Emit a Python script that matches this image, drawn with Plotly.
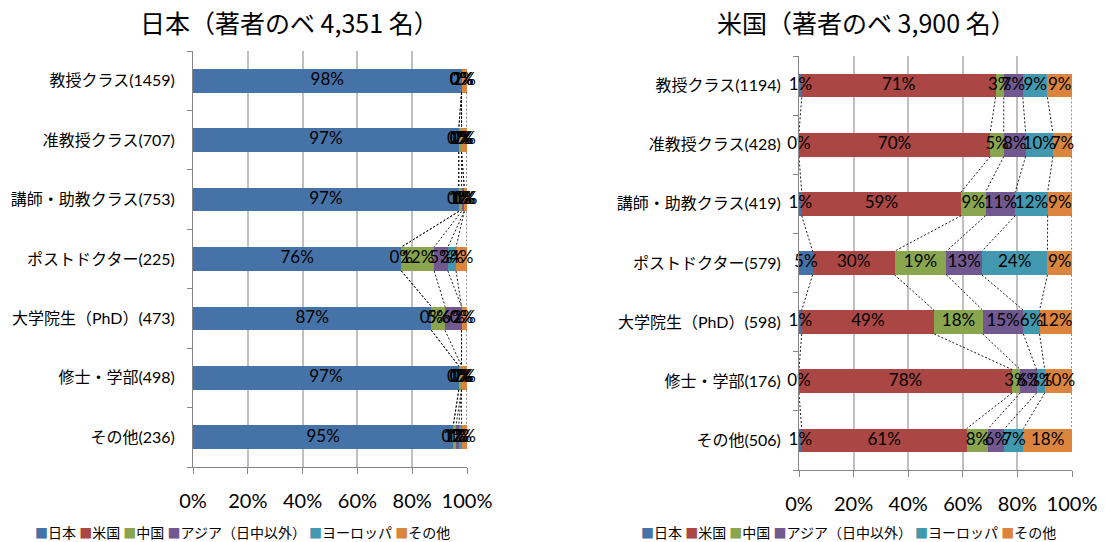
import numpy as np
import plotly.graph_objects as go

# ---- data -------------------------------------------------------------
categories_jp = ["教授クラス(1459)", "准教授クラス(707)", "講師・助教クラス(753)",
                 "ポストドクター(225)", "大学院生（PhD）(473)", "修士・学部(498)", "その他(236)"]
categories_us = ["教授クラス(1194)", "准教授クラス(428)", "講師・助教クラス(419)",
                 "ポストドクター(579)", "大学院生（PhD）(598)", "修士・学部(176)", "その他(506)"]

series_names = ["日本", "米国", "中国", "アジア（日中以外）", "ヨーロッパ", "その他"]
series_colors = ["#4572A7", "#AA4643", "#89A54E", "#71588F", "#4198AF", "#DB843D"]

# 日本の著者（％）
jp_japan = [98, 97, 97, 76, 87, 97, 95]
jp_usa = [0, 0, 0, 0, 0, 0, 0]
jp_china = [0, 1, 1, 12, 5, 1, 1]
jp_asia = [0, 0, 1, 5, 6, 0, 1]
jp_europe = [0, 0, 0, 3, 0, 0, 1]
jp_other = [2, 2, 1, 4, 2, 2, 2]

# 米国の著者（％）
us_japan = [1, 0, 1, 5, 1, 0, 1]
us_usa = [71, 70, 59, 30, 49, 78, 61]
us_china = [3, 5, 9, 19, 18, 3, 8]
us_asia = [7, 8, 11, 13, 15, 6, 6]
us_europe = [9, 10, 12, 24, 6, 3, 7]
us_other = [9, 7, 9, 9, 12, 10, 18]

title_jp = "日本（著者のベ 4,351 名）"
title_us = "米国（著者のベ 3,900 名）"
x_ticks = [0, 20, 40, 60, 80, 100]

# ---- styling ----------------------------------------------------------
LATIN_CJK = "Lato, 'Noto Sans CJK JP', sans-serif"
CJK = "'Noto Sans CJK JP', sans-serif"
BAR_W = 0.4
GRID = "#BFBFBF"
AXIS = "#868686"

fig = go.Figure()


def add_panel(cats, series, xa, ya):
    ypos = np.arange(len(cats))
    vals = np.array(series, dtype=float)
    totals = vals.sum(axis=0)
    cum = np.cumsum(vals, axis=0) / totals * 100.0
    start = cum - vals / totals * 100.0

    # stacked bars (normalised to 100% by barnorm)
    for name, color, v in zip(series_names, series_colors, series):
        fig.add_trace(go.Bar(
            x=v, y=ypos, orientation="h", name=name, width=BAR_W,
            marker=dict(color=color, line=dict(width=0)),
            xaxis=xa, yaxis=ya, showlegend=False, hoverinfo="skip",
        ))

    # series lines between neighbouring bars
    for k in range(len(series)):
        xs, ys = [], []
        for i in range(len(cats) - 1):
            xs += [cum[k, i], cum[k, i + 1], None]
            ys += [ypos[i] + BAR_W / 2, ypos[i + 1] - BAR_W / 2, None]
        fig.add_trace(go.Scatter(
            x=xs, y=ys, mode="lines", xaxis=xa, yaxis=ya,
            line=dict(color="#000000", width=0.9, dash="2px,2px"),
            showlegend=False, hoverinfo="skip",
        ))

    # value labels centred on each segment
    for k, v in enumerate(series):
        mid = (start[k] + cum[k]) / 2
        fig.add_trace(go.Scatter(
            x=mid, y=ypos, mode="text", text=[f"{int(t)}%" for t in v],
            textposition="middle center", cliponaxis=False,
            textfont=dict(family=LATIN_CJK, size=17, color="#000000"),
            xaxis=xa, yaxis=ya, showlegend=False, hoverinfo="skip",
        ))


add_panel(categories_jp, [jp_japan, jp_usa, jp_china, jp_asia, jp_europe, jp_other], "x", "y")
add_panel(categories_us, [us_japan, us_usa, us_china, us_asia, us_europe, us_other], "x2", "y2")

W, H = 1105, 542


def xaxis_cfg(x0, x1):
    return dict(
        domain=[x0 / W, x1 / W], range=[0, 100], tickvals=x_ticks,
        ticktext=[f"{t}%" for t in x_ticks],
        showgrid=True, gridcolor=GRID, gridwidth=1.5,
        showline=True, linecolor=AXIS, linewidth=1,
        ticks="outside", ticklen=6, tickcolor=AXIS,
        ticklabelstandoff=10, automargin=False,
        tickfont=dict(family=LATIN_CJK, size=20, color="#000000"),
        zeroline=False, fixedrange=True,
    )


def yaxis_cfg(cats, top, bottom, anchor):
    n = len(cats)
    return dict(
        domain=[1 - bottom / H, 1 - top / H], range=[n - 0.5, -0.5],
        tickvals=list(range(n)), ticktext=cats, ticks="",
        minor=dict(tickmode="array", tickvals=[i - 0.5 for i in range(n + 1)],
                   ticks="outside", ticklen=5, tickcolor=AXIS, showgrid=False),
        ticklabelstandoff=14, automargin=False,
        showline=True, linecolor=AXIS, linewidth=1, showgrid=False,
        tickfont=dict(family=LATIN_CJK, size=16, color="#000000"),
        zeroline=False, anchor=anchor, fixedrange=True,
    )


legend_items = []
for name, color in zip(series_names, series_colors):
    legend_items.append(
        f"<span style='color:{color};font-size:13px'>■</span>{name}")
legend_text = "\u00a0".join(legend_items)

fig.update_layout(
    width=W, height=H, margin=dict(l=0, r=0, t=0, b=0, autoexpand=False),
    paper_bgcolor="white", plot_bgcolor="white",
    barmode="stack", barnorm="percent",
    showlegend=False,
    xaxis=xaxis_cfg(193, 467) | dict(anchor="y"),
    yaxis=yaxis_cfg(categories_jp, 51, 467, "x"),
    xaxis2=xaxis_cfg(799, 1072) | dict(anchor="y2"),
    yaxis2=yaxis_cfg(categories_us, 56, 470, "x2"),
    annotations=[
        dict(text=title_jp, x=289 / W, y=1 - 22 / H, xref="paper", yref="paper",
             showarrow=False, xanchor="center", yanchor="middle",
             font=dict(family=CJK, size=25, color="#000000")),
        dict(text=title_us, x=866 / W, y=1 - 22 / H, xref="paper", yref="paper",
             showarrow=False, xanchor="center", yanchor="middle",
             font=dict(family=CJK, size=25, color="#000000")),
        dict(text=legend_text, x=33 / W, y=1 - 532 / H, xref="paper", yref="paper",
             showarrow=False, xanchor="left", yanchor="middle",
             font=dict(family=CJK, size=14, color="#000000")),
        dict(text=legend_text, x=639 / W, y=1 - 532 / H, xref="paper", yref="paper",
             showarrow=False, xanchor="left", yanchor="middle",
             font=dict(family=CJK, size=14, color="#000000")),
    ],
)

fig.write_html("out.html")
